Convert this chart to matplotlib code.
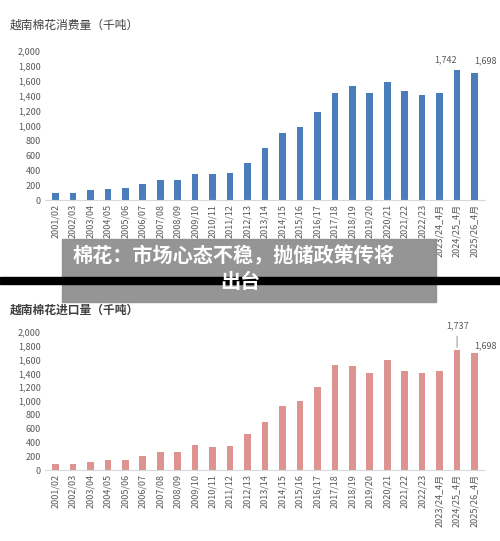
import matplotlib
matplotlib.use("Agg")
import matplotlib.pyplot as plt
from matplotlib.patches import Rectangle

plt.rcParams['font.family'] = ['Noto Sans CJK SC', 'DejaVu Sans']

categories = ["2001/02","2002/03","2003/04","2004/05","2005/06","2006/07","2007/08","2008/09",
              "2009/10","2010/11","2011/12","2012/13","2013/14","2014/15","2015/16","2016/17",
              "2017/18","2018/19","2019/20","2020/21","2021/22","2022/23","2023/24_4月",
              "2024/25_4月","2025/26_4月"]
consumption = [100,100,130,150,160,220,270,275,350,350,365,495,700,895,980,1180,
               1440,1530,1440,1590,1460,1405,1440,1742,1698]
imports = [90,80,110,145,145,210,260,265,365,340,350,520,700,930,1000,1200,
           1525,1510,1410,1590,1440,1400,1435,1737,1698]
titles = ["越南棉花消费量（千吨）", "越南棉花进口量（千吨）"]
colors = ["#4a7ebb", "#dd9390"]

fig = plt.figure(figsize=(5, 5.41), dpi=100)
W, H = 500, 541

def fy(p):
    return 1 - p / H

def draw(ax, vals, color, title, title_y, offsets, leader):
    x = range(len(categories))
    ax.bar(x, vals, width=0.38, color=color)
    ax.set_ylim(0, 2000)
    ax.set_xlim(-0.6, len(categories) - 0.4)
    ax.set_yticks(range(0, 2001, 200))
    ax.set_yticklabels([f"{v:,}" for v in range(0, 2001, 200)], fontsize=6.5, color="#595959")
    ax.set_xticks(list(x))
    ax.set_xticklabels(categories, rotation=90, fontsize=6.5, color="#595959")
    ax.tick_params(length=0, pad=3)
    for s in ["top", "right", "left"]:
        ax.spines[s].set_visible(False)
    ax.spines["bottom"].set_color("#d9d9d9")
    for k, i in enumerate((len(vals) - 2, len(vals) - 1)):
        dx, dy = offsets[k]
        ap = dict(arrowstyle="-", color="#808080", lw=0.6) if (leader and k == 0) else None
        ax.annotate(f"{vals[i]:,}", (i, vals[i]), xytext=(dx, dy), textcoords="offset points",
                    ha="center", va="bottom", fontsize=6.5, color="#595959", arrowprops=ap,
                    annotation_clip=False)
    fig.text(10 / W, fy(title_y), title, fontsize=8.5, color="#404040", va="center",
             fontweight="bold" if leader else "normal")

ax1 = fig.add_axes([45 / W, fy(200), 440 / W, (200 - 51) / H])
draw(ax1, consumption, colors[0], titles[0], 25, [(-8, 4), (8, 6)], False)
ax2 = fig.add_axes([45 / W, fy(470), 440 / W, (470 - 332) / H])
draw(ax2, imports, colors[1], titles[1], 310, [(0, 14), (8, 2)], True)

# overlays
fig.patches.append(Rectangle((62 / W, fy(302)), 374 / W, 63 / H, transform=fig.transFigure,
                             color="#8f8f8f", alpha=0.95, zorder=10))
fig.patches.append(Rectangle((0, fy(284)), 1, 7 / H, transform=fig.transFigure,
                             color="black", zorder=11))
fig.text(72 / W, fy(256), "棉花：市场心态不稳，抛储政策传将", fontsize=14.5, fontweight="bold",
         color="white", ha="left", va="center", zorder=12)
fig.text(240 / W, fy(281), "出台", fontsize=14.5, fontweight="bold",
         color="white", ha="center", va="center", zorder=12)

fig.savefig("out.png", dpi=100)
